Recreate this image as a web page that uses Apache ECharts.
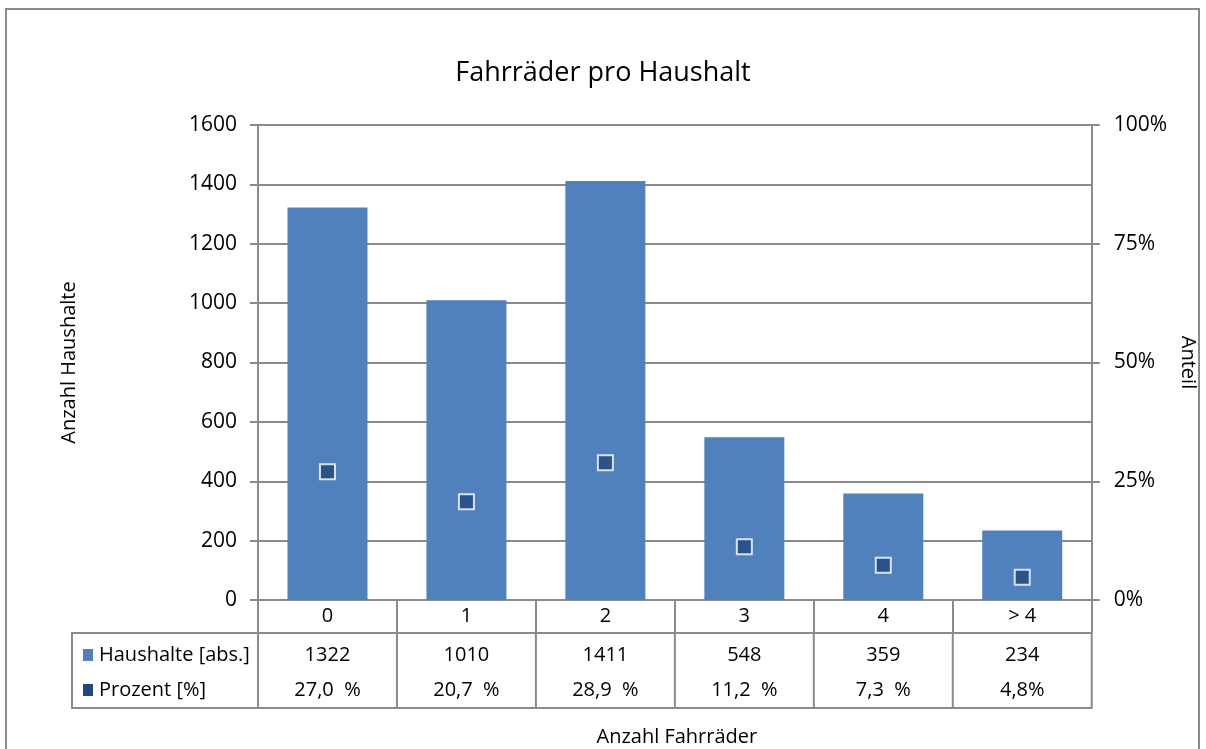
<!DOCTYPE html>
<html>
<head>
<meta charset="utf-8">
<script src="https://cdn.jsdelivr.net/npm/echarts@6/dist/echarts.min.js"></script>
<style>
  html, body { margin: 0; padding: 0; background: #fff; }
  #main { width: 1206px; height: 749px; }
</style>
</head>
<body>
<div id="main"></div>
<script>
// Daten
const categories = ['0', '1', '2', '3', '4', '> 4'];
const households = [1322, 1010, 1411, 548, 359, 234];
const percent = [27.0, 20.7, 28.9, 11.2, 7.3, 4.8];
const householdLabels = ['1322', '1010', '1411', '548', '359', '234'];
const percentLabels = ['27,0  %', '20,7  %', '28,9  %', '11,2  %', '7,3  %', '4,8%'];
const rowNames = ['Haushalte [abs.]', 'Prozent [%]'];

const FONT = '"Open Sans", "Noto Sans", sans-serif';
const GRAY = '#8a8a8a';
const BAR = '#4f81bd';
const DARK = '#1f497d';

const myChart = echarts.init(document.getElementById('main'));

const option = {
    animation: false,
    textStyle: { fontFamily: FONT },
    title: {
        text: 'Fahrräder pro Haushalt',
        left: 'center',
        top: 55,
        textStyle: { fontSize: 27, fontWeight: 'normal', color: '#000', fontFamily: FONT }
    },
    grid: { left: 258, right: 111, top: 125, bottom: 149 },
    xAxis: {
        type: 'category',
        data: categories,
        axisLine: { lineStyle: { color: GRAY, width: 2 } },
        axisTick: { show: true, length: 33, lineStyle: { color: GRAY, width: 2 } },
        axisLabel: { fontSize: 20, color: '#000', margin: 6, fontFamily: FONT }
    },
    yAxis: [
        {
            type: 'value',
            min: 0,
            max: 1600,
            interval: 200,
            name: 'Anzahl Haushalte',
            nameLocation: 'middle',
            nameGap: 179,
            nameTextStyle: { fontSize: 20, color: '#000', fontFamily: FONT },
            axisLine: { show: true, lineStyle: { color: GRAY, width: 2 } },
            axisTick: { show: true, length: 8, lineStyle: { color: GRAY, width: 2 } },
            axisLabel: { fontSize: 21, color: '#000', margin: 21, formatter: v => String(v), fontFamily: FONT },
            splitLine: { lineStyle: { color: GRAY, width: 2 } }
        },
        {
            type: 'value',
            min: 0,
            max: 100,
            interval: 25,
            position: 'right',
            name: 'Anteil',
            nameLocation: 'middle',
            nameGap: 66,
            nameRotate: -90,
            nameTextStyle: { fontSize: 20, color: '#000', fontFamily: FONT },
            axisLine: { show: true, lineStyle: { color: GRAY, width: 2 } },
            axisTick: { show: true, length: 8, lineStyle: { color: GRAY, width: 2 } },
            axisLabel: { fontSize: 21, color: '#000', margin: 22, formatter: '{value}%', fontFamily: FONT },
            splitLine: { show: false }
        }
    ],
    series: [
        {
            name: 'Haushalte [abs.]',
            type: 'bar',
            data: households,
            barWidth: 80,
            itemStyle: { color: BAR }
        },
        {
            name: 'Prozent [%]',
            type: 'scatter',
            yAxisIndex: 1,
            data: percent,
            symbol: 'rect',
            symbolSize: 15,
            itemStyle: { color: DARK, borderColor: '#fff', borderWidth: 2 }
        }
    ]
};

myChart.setOption(option);

// Datentabelle unter der Achse
function buildTable() {
    const centers = categories.map((c, i) => myChart.convertToPixel({ xAxisIndex: 0 }, i));
    const step = centers[1] - centers[0];
    const left = centers[0] - step / 2;
    const right = centers[centers.length - 1] + step / 2;
    const tableLeft = 72;
    const top = 633;
    const bottom = 708;
    const rowY = [655, 690];
    const elements = [];

    // Rahmen
    elements.push({
        type: 'rect',
        shape: { x: 6, y: 9, width: 1193, height: 760 },
        style: { fill: null, stroke: GRAY, lineWidth: 2 },
        silent: true
    });
    elements.push({
        type: 'rect',
        shape: { x: tableLeft, y: top, width: right - tableLeft, height: bottom - top },
        style: { fill: null, stroke: GRAY, lineWidth: 2 },
        silent: true
    });
    for (let i = 0; i < categories.length; i++) {
        const x = left + i * step;
        elements.push({
            type: 'line',
            shape: { x1: x, y1: top, x2: x, y2: bottom },
            style: { stroke: GRAY, lineWidth: 2 },
            silent: true
        });
    }

    // Legendenschlüssel + Zeilennamen
    [BAR, DARK].forEach((col, r) => {
        elements.push({
            type: 'rect',
            shape: { x: 83, y: rowY[r] - 6, width: 10, height: 12 },
            style: { fill: col },
            silent: true
        });
        elements.push({
            type: 'text',
            x: 99,
            y: rowY[r],
            style: { text: rowNames[r], font: '20px ' + FONT, fill: '#000', verticalAlign: 'middle', align: 'left' },
            silent: true
        });
    });

    // Werte
    [householdLabels, percentLabels].forEach((arr, r) => {
        arr.forEach((t, i) => {
            elements.push({
                type: 'text',
                x: centers[i],
                y: rowY[r],
                style: { text: t, font: '20px ' + FONT, fill: '#000', align: 'center', verticalAlign: 'middle' },
                silent: true
            });
        });
    });

    // x-Achsentitel
    elements.push({
        type: 'text',
        x: (left + right) / 2 + 2,
        y: 737,
        style: { text: 'Anzahl Fahrräder', font: '20px ' + FONT, fill: '#000', align: 'center', verticalAlign: 'middle' },
        silent: true
    });

    myChart.setOption({ graphic: { elements: elements } });
}

buildTable();
</script>
</body>
</html>
